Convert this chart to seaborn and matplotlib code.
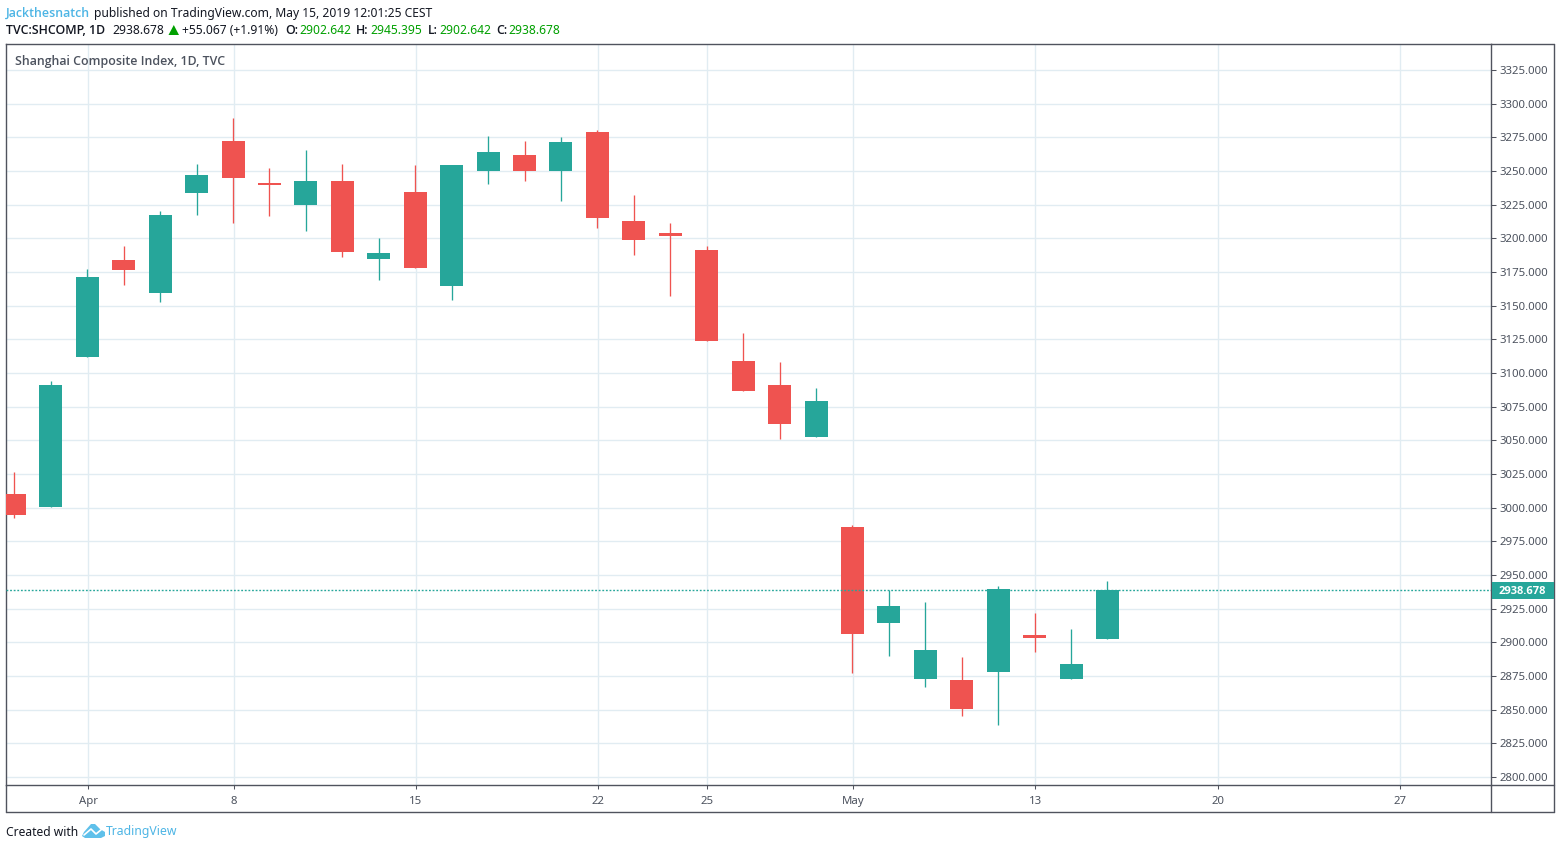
import matplotlib
matplotlib.use("Agg")
import matplotlib.pyplot as plt
from matplotlib.patches import Rectangle, Polygon
import pandas as pd
import seaborn as sns

# Daily OHLC for the Shanghai Composite Index
opens = [3010.2, 3000.5, 3111.9, 3183.9, 3159.4, 3233.7, 3272.3, 3241.1, 3224.8, 3242.6, 3184.7,
         3234.4, 3164.6, 3250.0, 3261.9, 3250.0, 3279.0, 3212.9, 3204.0, 3191.3, 3108.9, 3091.1,
         3052.5, 2985.7, 2914.4, 2872.8, 2872.0, 2878.0, 2905.5, 2872.8, 2902.642]
highs = [3026.5, 3094.1, 3177.2, 3194.3, 3220.3, 3255.2, 3289.4, 3252.2, 3265.6, 3255.2, 3200.3,
         3254.5, 3254.5, 3276.0, 3272.3, 3275.2, 3280.4, 3232.2, 3211.4, 3194.3, 3129.7, 3108.2,
         3088.9, 2987.1, 2938.9, 2930.0, 2889.1, 2941.8, 2921.8, 2909.9, 2945.395]
lows = [2992.6, 3000.5, 3111.9, 3165.4, 3152.7, 3217.3, 3211.4, 3216.6, 3205.4, 3186.1, 3169.1,
        3178.0, 3154.2, 3240.3, 3242.6, 3227.7, 3207.7, 3187.6, 3157.2, 3123.8, 3086.6, 3051.0,
        3052.5, 2877.2, 2889.9, 2866.8, 2845.3, 2838.6, 2892.8, 2872.8, 2902.642]
closes = [2994.6, 3091.1, 3171.3, 3176.5, 3217.3, 3247.0, 3244.8, 3239.6, 3242.6, 3189.9, 3189.1,
          3178.0, 3254.5, 3264.1, 3250.0, 3271.5, 3215.1, 3198.8, 3201.7, 3123.8, 3086.6, 3062.1,
          3079.2, 2906.2, 2927.0, 2894.3, 2850.5, 2939.6, 2903.2, 2883.9, 2938.678]

date_labels = ["Apr", "8", "15", "22", "25", "May", "13", "20", "27"]
date_slots = [2, 6, 11, 16, 19, 23, 28, 33, 38]
price_ticks = list(range(2800, 3326, 25))
last_price = 2938.678

UP = "#26a69a"
DOWN = "#ef5350"
GRID = "#e1ecf2"
FRAME = "#50535e"
TEXT = "#4c525e"
BLUE = "#4db5e5"
GREEN = "#00a000"
W, H = 1560, 849
FONT = "Noto Sans"
HEAVY = "Open Sans"

sns.set_theme(style="white", rc={"font.family": FONT})
fig = plt.figure(figsize=(W / 100, H / 100), dpi=100)
fig.patch.set_facecolor("white")
ax = fig.add_axes([6 / W, 1 - 785 / H, (1491 - 6) / W, (785 - 43.5) / H])

n = len(opens)
candles = pd.DataFrame({"slot": range(n), "open": opens, "high": highs, "low": lows, "close": closes})
candles["side"] = ["up" if c >= o else "down" for o, c in zip(opens, closes)]
candles["bottom"] = candles[["open", "close"]].min(axis=1)
candles["span"] = (candles["close"] - candles["open"]).abs()
palette = {"up": UP, "down": DOWN}

# Wicks: one short line per session
wicks = candles.melt(id_vars=["slot", "side"], value_vars=["low", "high"], value_name="price")
sns.lineplot(data=wicks, x="slot", y="price", hue="side", palette=palette, units="slot",
             estimator=None, sort=False, legend=False, linewidth=0.95, ax=ax, zorder=3,
             solid_capstyle="butt")

# Bodies, one call per direction so each gets its own baselines
for side, group in candles.groupby("side"):
    sns.barplot(data=group, x="slot", y="span", bottom=group["bottom"].to_numpy(), color=palette[side],
                native_scale=True, width=0.631, saturation=1, errorbar=None,
                linewidth=0, ax=ax, zorder=4)

ax.set_xlim(-0.232, 40.526)
ax.set_ylim(2794.0, 3344.6)
ax.set_xlabel("")
ax.set_ylabel("")

# Grid lines sit a pixel to the right of the candle centres
ax.set_xticks([s + 0.02 for s in date_slots], date_labels)
ax.set_yticks(price_ticks, [f"{p:.3f}" for p in price_ticks])
ax.yaxis.tick_right()
ax.grid(True, color=GRID, linewidth=1.0, zorder=0)
ax.set_axisbelow(True)
ax.tick_params(axis="x", length=3.2, width=0.75, color=FRAME, labelcolor=TEXT, labelsize=8.2, pad=5, bottom=True)
ax.tick_params(axis="y", length=3.6, width=0.75, color=FRAME, labelcolor=TEXT, labelsize=8.2, pad=2.8, right=True)
for spine in ax.spines.values():
    spine.set_visible(True)
    spine.set_color(FRAME)
    spine.set_linewidth(1.0)

# Last-price line and tag
ax.axhline(last_price, color=UP, linewidth=1.0, linestyle=(0, (1.3, 1.3)), zorder=5)


def px(x, y):
    return x / W, 1 - y / H


def label(x, y, s, color="#131722", weight="normal", size=8.7, family=FONT):
    fx, fy = px(x, y)
    fig.text(fx, fy, s, color=color, fontweight=weight, fontsize=size, ha="left", va="center", family=family)


def heavy(x, y, s, color="#131722", size=8.9):
    label(x, y, s, color=color, weight="semibold", size=size, family=HEAVY)


# Outer frame around the price scale and date scale
fig.add_artist(plt.Line2D([1491 / W, 1553.5 / W], [1 - 785 / H] * 2, color=FRAME, lw=1.0))
fig.add_artist(plt.Line2D([1491 / W, 1553.5 / W], [1 - 43.5 / H] * 2, color=FRAME, lw=1.0))
fig.add_artist(plt.Line2D([6 / W, 1553.5 / W], [1 - 812 / H] * 2, color=FRAME, lw=1.0))
fig.add_artist(plt.Line2D([6 / W, 6 / W], [1 - 812 / H, 1 - 785 / H], color=FRAME, lw=1.0))
fig.add_artist(plt.Line2D([1491 / W, 1491 / W], [1 - 812 / H, 1 - 785 / H], color=FRAME, lw=1.0))
fig.add_artist(plt.Line2D([1553.5 / W] * 2, [1 - 812 / H, 1 - 43.5 / H], color=FRAME, lw=1.0))

fig.add_artist(Rectangle(px(1491.5, 599), 62 / W, 17 / H, transform=fig.transFigure,
                         facecolor=UP, edgecolor="none", zorder=6))
fig.text(*px(1522, 591), f"{last_price:.3f}", color="white", fontweight="bold", fontsize=8.0,
         ha="center", va="center", family=HEAVY, zorder=7)

# Header lines
heavy(6, 13.5, "Jackthesnatch", color=BLUE)
label(94, 13.5, "published on TradingView.com, May 15, 2019 12:01:25 CEST")
heavy(6, 30.5, "TVC:SHCOMP, 1D")
label(112, 30.5, "2938.678")
fig.add_artist(Polygon([px(168.5, 35), px(179, 35), px(173.8, 25)], closed=True, transform=fig.transFigure,
                       facecolor=GREEN, edgecolor="none"))
label(182, 30.5, "+55.067 (+1.91%)")
for x_key, key, x_val, val in [(285.5, "O:", 299.5, "2902.642"), (356, "H:", 370.5, "2945.395"),
                               (428, "L:", 439, "2902.642"), (496, "C:", 508, "2938.678")]:
    heavy(x_key, 30.5, key)
    label(x_val, 30.5, val, color=GREEN)

heavy(15, 61.5, "Shanghai Composite Index, 1D, TVC", color=TEXT)

# Footer with the small cloud mark
label(6, 832, "Created with")
fig.add_artist(Polygon([px(82, 836), px(84, 832), px(91, 824), px(95, 824), px(100, 829), px(105, 832),
                        px(105, 836), px(101, 838), px(85, 838)], closed=True, transform=fig.transFigure,
                       facecolor="#5fc0ea", edgecolor="none"))
fig.add_artist(plt.Line2D([px(84, 835)[0], px(91, 829)[0], px(96, 834)[0], px(102, 829)[0]],
                          [px(84, 835)[1], px(91, 829)[1], px(96, 834)[1], px(102, 829)[1]],
                          color="white", lw=1.2))
label(106, 832, "TradingView", color=BLUE, size=8.8)

fig.savefig("out.png", dpi=100, facecolor="white")
